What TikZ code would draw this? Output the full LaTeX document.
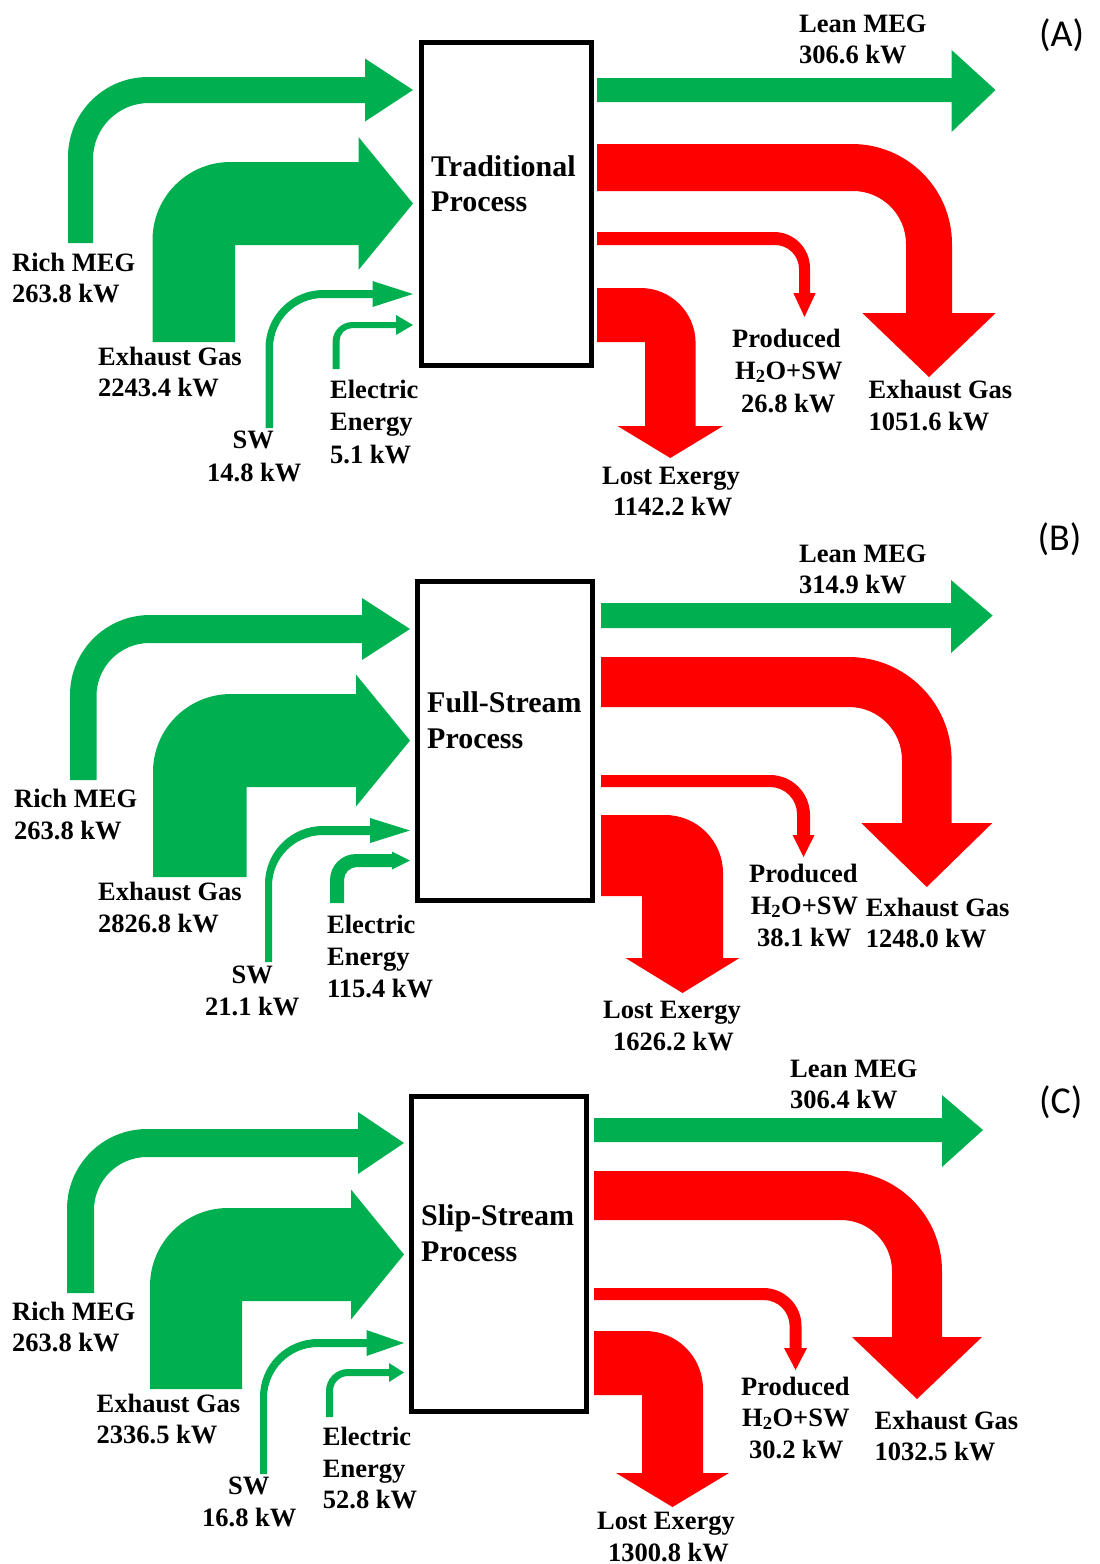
\documentclass[tikz,border=0pt]{standalone}
\usepackage{fontspec}
\setmainfont{Liberation Serif}
\newfontfamily\panelfont{Carlito}
\definecolor{flowgreen}{RGB}{0,176,80}
\definecolor{flowred}{RGB}{255,0,0}
% incoming green bent arrow: xl xr ybot yt yb Ro Ri xhead halfhead ; tip x = \tipx
\newcommand\inarr[9]{%
 \fill[flowgreen] (#1,#3) -- (#1,#4+#6) .. controls (#1,#4+0.4477*#6) and (#1+0.4477*#6,#4) .. (#1+#6,#4)
  -- (#8,#4) -- (#8,{(#4+#5)/2-#9}) -- (\tipx,{(#4+#5)/2}) -- (#8,{(#4+#5)/2+#9}) -- (#8,#5)
  -- (#2+#7,#5) .. controls (#2+0.4477*#7,#5) and (#2,#5+0.4477*#7) .. (#2,#5+#7) -- (#2,#3) -- cycle;}
% outgoing red bent arrow: yt yb xl xr Ro Ri yhead halfwidth depth ; start x = \boxr
\newcommand\outarr[9]{%
 \fill[flowred] (\boxr,#1) -- (#4-#5,#1) .. controls (#4-0.4477*#5,#1) and (#4,#1+0.4477*#5) .. (#4,#1+#5)
  -- (#4,#7) -- ({(#3+#4)/2+#8},#7) -- ({(#3+#4)/2},#7+#9) -- ({(#3+#4)/2-#8},#7) -- (#3,#7)
  -- (#3,#2+#6) .. controls (#3,#2+0.4477*#6) and (#3-0.4477*#6,#2) .. (#3-#6,#2) -- (\boxr,#2) -- cycle;}
% straight green arrow: x0 yt yb xhead yhtop yhbot tip
\newcommand\straightarr[7]{%
 \fill[flowgreen] (#1,#2) -- (#4,#2) -- (#4,#5) -- (#7,{(#2+#3)/2}) -- (#4,#6) -- (#4,#3) -- (#1,#3) -- cycle;}
\begin{document}
\begin{tikzpicture}[x=1pt,y=-1pt,
  lab/.style={inner sep=0pt, anchor=base west, font=\fontsize{26.5}{32}\selectfont\bfseries},
  boxtxt/.style={inner sep=0pt, anchor=base west, font=\fontsize{30}{36}\selectfont\bfseries},
  panel/.style={inner sep=0pt, anchor=base west, font=\panelfont\fontsize{38}{44}\selectfont},
  procbox/.style={draw=black, line width=5pt, inner sep=0pt, fill=none}]
\fill[white] (0,0) rectangle (1100,1564);
\useasboundingbox (0,0) rectangle (1100,1564);

% ---------------- Panel A ----------------
\def\tipx{413}\def\boxr{597}
\inarr{68}{93}{243}{77}{103}{80}{56}{365}{31.5}
\inarr{152.5}{235}{342}{162}{245}{78}{0}{358.5}{66.5}
\inarr{265.5}{273}{428}{290}{298}{58}{50}{372.5}{13}
\inarr{332.5}{339.5}{369}{322}{328}{20}{13}{396}{10}
\straightarr{597}{78}{102}{951.6}{50}{132}{995.5}
\outarr{144}{191}{906}{952}{100}{53}{313}{66.7}{64}
\outarr{232}{245}{799}{810}{36}{24}{293}{11.2}{24}
\outarr{288}{342}{645}{695.6}{55}{0}{426}{52.8}{32}
\node[procbox, minimum width=170pt, minimum height=323pt] (boxA) at (506,204) {};
\node[boxtxt] (tA1) at (431,176) {Traditional};
\node[boxtxt] (tA2) at (431,211) {Process};
\node[lab] (lA1) at (12,271) {Rich MEG};
\node[lab] (lA2) at (12,302) {263.8 kW};
\node[lab] (lA3) at (98,365) {Exhaust Gas};
\node[lab] (lA4) at (98,396) {2243.4 kW};
\node[lab] (lA5) at (232.5,448) {SW};
\node[lab] (lA6) at (207,481) {14.8 kW};
\node[lab] (lA7) at (330,398) {Electric};
\node[lab] (lA8) at (330,430) {Energy};
\node[lab] (lA9) at (330,463) {5.1 kW};
\node[lab] (rA1) at (799,32) {Lean MEG};
\node[lab] (rA2) at (799,63) {306.6 kW};
\node[lab] (rA3) at (732,347) {Produced};
\node[lab] (rA4) at (735,379) {H\textsubscript{2}O+SW};
\node[lab] (rA5) at (741,412) {26.8 kW};
\node[lab] (rA6) at (868.5,398) {Exhaust Gas};
\node[lab] (rA7) at (868.5,430) {1051.6 kW};
\node[lab] (rA8) at (602,484) {Lost Exergy};
\node[lab] (rA9) at (613,515) {1142.2 kW};
\node[panel] (pA) at (1039,46) {(A)};

% ---------------- Panel B ----------------
\def\tipx{410}\def\boxr{601}
\inarr{70}{96.5}{780}{615}{643}{80}{53}{362}{31}
\inarr{153}{246.6}{877}{694}{787}{78}{0}{356}{66}
\inarr{265}{272}{962}{826}{835}{58}{51}{370}{12.5}
\inarr{330}{344}{903}{854}{867}{26}{13}{392}{9}
\straightarr{601}{603}{628}{951}{580}{653}{992.6}
\outarr{657}{707}{902}{951.6}{103}{53}{823}{65.5}{64}
\outarr{775}{787}{797}{810}{40}{27}{835}{11}{22}
\outarr{815}{896}{642}{723}{58}{0}{958}{57}{35}
\node[procbox, minimum width=175pt, minimum height=319pt] (boxB) at (504.5,741) {};
\node[boxtxt] (tB1) at (427,712) {Full-Stream};
\node[boxtxt] (tB2) at (427,748) {Process};
\node[lab] (lB1) at (14,807) {Rich MEG};
\node[lab] (lB2) at (14,839) {263.8 kW};
\node[lab] (lB3) at (98,900) {Exhaust Gas};
\node[lab] (lB4) at (98,932) {2826.8 kW};
\node[lab] (lB5) at (231.5,983) {SW};
\node[lab] (lB6) at (205,1015) {21.1 kW};
\node[lab] (lB7) at (327,933) {Electric};
\node[lab] (lB8) at (327,965) {Energy};
\node[lab] (lB9) at (327,997) {115.4 kW};
\node[lab] (rB1) at (799,562) {Lean MEG};
\node[lab] (rB2) at (799,593) {314.9 kW};
\node[lab] (rB3) at (749,882) {Produced};
\node[lab] (rB4) at (750.6,914) {H\textsubscript{2}O+SW};
\node[lab] (rB5) at (757,946) {38.1 kW};
\node[lab] (rB6) at (865.7,916) {Exhaust Gas};
\node[lab] (rB7) at (865.7,947) {1248.0 kW};
\node[lab] (rB8) at (603,1018) {Lost Exergy};
\node[lab] (rB9) at (613,1050) {1626.2 kW};
\node[panel] (pB) at (1037.5,550) {(B)};

% ---------------- Panel C ----------------
\def\tipx{404}\def\boxr{594}
\inarr{67}{94}{1293}{1129}{1157}{80}{53}{358}{31}
\inarr{150}{242}{1389}{1208}{1301}{78}{0}{351}{65}
\inarr{260}{267}{1474}{1339}{1347}{58}{51}{366.5}{13}
\inarr{326}{333}{1417}{1369}{1376}{22}{15}{389}{9.5}
\straightarr{594}{1118}{1142}{942}{1095}{1167}{983}
\outarr{1171}{1220}{892}{942}{100}{51}{1337}{65}{62}
\outarr{1288}{1300}{789.6}{801.5}{38}{26}{1348}{11.5}{22}
\outarr{1331}{1395}{642}{703}{58}{0}{1473}{56.5}{34}
\node[procbox, minimum width=175pt, minimum height=315pt] (boxC) at (498.5,1254) {};
\node[boxtxt] (tC1) at (421,1225) {Slip-Stream};
\node[boxtxt] (tC2) at (421,1261) {Process};
\node[lab] (lC1) at (12,1320) {Rich MEG};
\node[lab] (lC2) at (12,1351) {263.8 kW};
\node[lab] (lC3) at (96.5,1412) {Exhaust Gas};
\node[lab] (lC4) at (96.5,1443) {2336.5 kW};
\node[lab] (lC5) at (228,1494) {SW};
\node[lab] (lC6) at (202,1526) {16.8 kW};
\node[lab] (lC7) at (322.7,1445) {Electric};
\node[lab] (lC8) at (322.7,1477) {Energy};
\node[lab] (lC9) at (322.7,1508) {52.8 kW};
\node[lab] (rC1) at (790,1077) {Lean MEG};
\node[lab] (rC2) at (790,1108) {306.4 kW};
\node[lab] (rC3) at (741,1395) {Produced};
\node[lab] (rC4) at (742,1426) {H\textsubscript{2}O+SW};
\node[lab] (rC5) at (749,1458) {30.2 kW};
\node[lab] (rC6) at (874.5,1429) {Exhaust Gas};
\node[lab] (rC7) at (874.5,1460) {1032.5 kW};
\node[lab] (rC8) at (597,1529) {Lost Exergy};
\node[lab] (rC9) at (608,1561) {1300.8 kW};
\node[panel] (pC) at (1039,1113) {(C)};
\end{tikzpicture}
\end{document}
